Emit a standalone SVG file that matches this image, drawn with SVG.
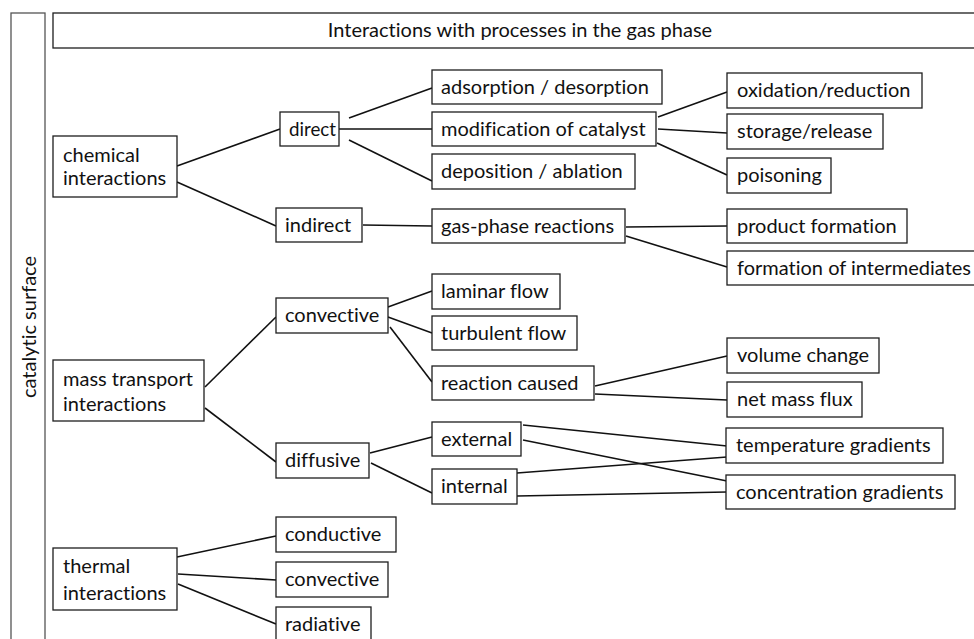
<svg xmlns="http://www.w3.org/2000/svg" width="974" height="639" viewBox="0 0 974 639">
<style>
.box{fill:#fff;stroke:#1e1e1e;stroke-width:1.3}
.frame{fill:none;stroke:#555;stroke-width:1.3}
.t{font-family:Lato,"Open Sans",sans-serif;font-size:20px;fill:#111;font-variant-ligatures:none}
.c line{stroke:#111;stroke-width:1.6}
</style>
<rect width="974" height="639" fill="#fff"/>
<g id="catalytic-surface">
<rect class="frame" x="11" y="13" width="34" height="640"/>
<text class="t" transform="translate(36,327) rotate(-90)" text-anchor="middle">catalytic surface</text>
</g>
<g id="header">
<rect class="box" x="53" y="13" width="940" height="35"/>
<text class="t" x="520" y="37" text-anchor="middle">Interactions with processes in the gas phase</text>
</g>
<g class="c" id="connectors">
<line x1="177" y1="166" x2="280" y2="129"/>
<line x1="177" y1="182" x2="276" y2="226"/>
<line x1="349" y1="118" x2="432" y2="88"/>
<line x1="339" y1="129" x2="432" y2="129"/>
<line x1="349" y1="140" x2="432" y2="181"/>
<line x1="658" y1="117" x2="727" y2="92"/>
<line x1="658" y1="129" x2="727" y2="133"/>
<line x1="657" y1="143" x2="727" y2="175"/>
<line x1="363" y1="225" x2="432" y2="226"/>
<line x1="626" y1="227" x2="727" y2="226"/>
<line x1="626" y1="236" x2="727" y2="267"/>
<line x1="205" y1="387" x2="276" y2="317"/>
<line x1="205" y1="408" x2="276" y2="462"/>
<line x1="388" y1="307" x2="432" y2="291"/>
<line x1="388" y1="317" x2="432" y2="333"/>
<line x1="390" y1="327" x2="432" y2="382"/>
<line x1="595" y1="386" x2="727" y2="356"/>
<line x1="595" y1="394" x2="727" y2="400"/>
<line x1="370" y1="453" x2="432" y2="437"/>
<line x1="371" y1="463" x2="432" y2="493"/>
<line x1="523" y1="425" x2="727" y2="446"/>
<line x1="523" y1="440" x2="727" y2="481"/>
<line x1="517" y1="473" x2="727" y2="457"/>
<line x1="517" y1="496" x2="727" y2="492"/>
<line x1="177" y1="557" x2="276" y2="536"/>
<line x1="178" y1="574" x2="276" y2="580"/>
<line x1="178" y1="584" x2="276" y2="624"/>
</g>
<g id="chemical"><rect class="box" x="53" y="136" width="124" height="61"/><text class="t" x="63" y="162">chemical</text><text class="t" x="63" y="185">interactions</text></g>
<g id="direct"><rect class="box" x="280" y="112" width="59" height="34"/><text class="t" x="289" y="136" textLength="47" lengthAdjust="spacingAndGlyphs">direct</text></g>
<g id="adsorption"><rect class="box" x="432" y="70" width="230" height="34"/><text class="t" x="441" y="94">adsorption / desorption</text></g>
<g id="modification"><rect class="box" x="432" y="112" width="224" height="34"/><text class="t" x="441" y="136">modification of catalyst</text></g>
<g id="deposition"><rect class="box" x="432" y="154" width="203" height="35"/><text class="t" x="441" y="178">deposition / ablation</text></g>
<g id="oxidation"><rect class="box" x="727" y="73" width="195" height="35"/><text class="t" x="737" y="97">oxidation/reduction</text></g>
<g id="storage"><rect class="box" x="727" y="114" width="156" height="35"/><text class="t" x="737" y="138">storage/release</text></g>
<g id="poisoning"><rect class="box" x="727" y="158" width="104" height="35"/><text class="t" x="737" y="182">poisoning</text></g>
<g id="indirect"><rect class="box" x="276" y="208" width="86" height="34"/><text class="t" x="285" y="232">indirect</text></g>
<g id="gas-phase"><rect class="box" x="432" y="209" width="193" height="34"/><text class="t" x="441" y="233">gas-phase reactions</text></g>
<g id="product"><rect class="box" x="727" y="209" width="180" height="34"/><text class="t" x="737" y="233">product formation</text></g>
<g id="intermediates"><rect class="box" x="727" y="251" width="260" height="34"/><text class="t" x="737" y="275">formation of intermediates</text></g>
<g id="convective-mass"><rect class="box" x="276" y="298" width="112" height="35"/><text class="t" x="285" y="322">convective</text></g>
<g id="laminar"><rect class="box" x="432" y="274" width="128" height="35"/><text class="t" x="441" y="298">laminar flow</text></g>
<g id="turbulent"><rect class="box" x="432" y="316" width="145" height="34"/><text class="t" x="441" y="340">turbulent flow</text></g>
<g id="reaction-caused"><rect class="box" x="432" y="366" width="162" height="34"/><text class="t" x="441" y="390">reaction caused</text></g>
<g id="volume"><rect class="box" x="727" y="338" width="152" height="35"/><text class="t" x="737" y="362">volume change</text></g>
<g id="netflux"><rect class="box" x="727" y="382" width="135" height="35"/><text class="t" x="737" y="406">net mass flux</text></g>
<g id="mass"><rect class="box" x="53" y="360" width="151" height="61"/><text class="t" x="63" y="386">mass transport</text><text class="t" x="63" y="411">interactions</text></g>
<g id="diffusive"><rect class="box" x="276" y="443" width="93" height="35"/><text class="t" x="285" y="467">diffusive</text></g>
<g id="external"><rect class="box" x="432" y="422" width="89" height="34"/><text class="t" x="441" y="446">external</text></g>
<g id="internal"><rect class="box" x="432" y="469" width="85" height="35"/><text class="t" x="441" y="493">internal</text></g>
<g id="temperature"><rect class="box" x="726" y="428" width="217" height="35"/><text class="t" x="736" y="452">temperature gradients</text></g>
<g id="concentration"><rect class="box" x="726" y="475" width="229" height="34"/><text class="t" x="736" y="499">concentration gradients</text></g>
<g id="thermal"><rect class="box" x="53" y="548" width="124" height="62"/><text class="t" x="63" y="573">thermal</text><text class="t" x="63" y="600">interactions</text></g>
<g id="conductive"><rect class="box" x="276" y="517" width="120" height="35"/><text class="t" x="285" y="541">conductive</text></g>
<g id="convective-thermal"><rect class="box" x="276" y="562" width="112" height="35"/><text class="t" x="285" y="586">convective</text></g>
<g id="radiative"><rect class="box" x="276" y="607" width="95" height="35"/><text class="t" x="285" y="631">radiative</text></g>
</svg>
